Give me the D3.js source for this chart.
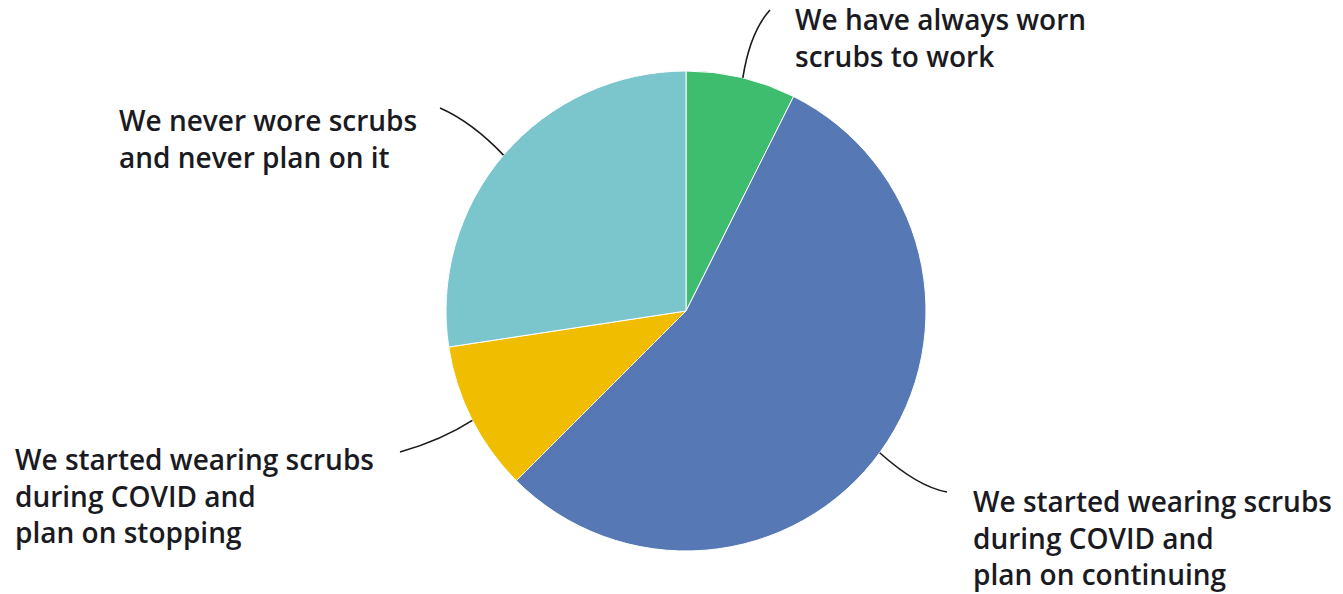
<!DOCTYPE html>
<html>
<head>
<meta charset="utf-8">
<script src="https://cdn.jsdelivr.net/npm/d3@7"></script>
<style>
  html, body { margin: 0; padding: 0; background: #fff; }
  svg { display: block; }
  text { font-family: "Open Sans", sans-serif; font-weight: 600; fill: #1a1a22; }
</style>
</head>
<body>
<svg id="chart" width="1343" height="594"></svg>
<script>
const categories = [
  "We have always worn scrubs to work",
  "We started wearing scrubs during COVID and plan on continuing",
  "We started wearing scrubs during COVID and plan on stopping",
  "We never wore scrubs and never plan on it"
];
const values = [7.4, 55.1, 10.1, 27.4];
const colors = ["#3dbd6d", "#5679b6", "#f1bd00", "#7bc6cc"];
const labelLines = [
  ["We have always worn", "scrubs to work"],
  ["We started wearing scrubs", "during COVID and", "plan on continuing"],
  ["We started wearing scrubs", "during COVID and", "plan on stopping"],
  ["We never wore scrubs", "and never plan on it"]
];

const W = 1343, H = 594;
const cx = 686, cy = 311, R = 240;
const svg = d3.select("#chart");

const pie = d3.pie().sort(null).value(d => d)(values);
const arc = d3.arc().innerRadius(0).outerRadius(R);

const g = svg.append("g").attr("transform", `translate(${cx},${cy})`);
g.selectAll("path.slice")
  .data(pie)
  .join("path")
  .attr("class", "slice")
  .attr("d", arc)
  .attr("fill", (d, i) => colors[i])
  .attr("stroke", "#fff")
  .attr("stroke-width", 1);

// label layout (positions only)
const labelPos = [
  { x: 795, y: 30 },
  { x: 973, y: 512 },
  { x: 15, y: 470 },
  { x: 119, y: 131 }
];
const lineH = 36.5;

labelLines.forEach((lines, i) => {
  const t = svg.append("text")
    .attr("x", labelPos[i].x)
    .attr("y", labelPos[i].y)
    .attr("font-size", 28);
  lines.forEach((ln, j) => {
    t.append("tspan")
      .attr("x", labelPos[i].x)
      .attr("y", labelPos[i].y + j * lineH)
      .text(ln);
  });
});

function edgePoint(angleDeg) {
  const a = angleDeg * Math.PI / 180;
  return [cx + R * Math.sin(a), cy - R * Math.cos(a)];
}
const leaders = [
  { a: 13.7, ctrl: [750, 32], end: [770, 10] },
  { a: 126.2, ctrl: [918, 487], end: [947, 492] },
  { a: 242.9, ctrl: [442, 440], end: [400, 452] },
  { a: 310.5, ctrl: [472, 122], end: [440, 108] }
];
leaders.forEach(l => {
  const s = edgePoint(l.a);
  const p = d3.path();
  p.moveTo(s[0], s[1]);
  p.quadraticCurveTo(l.ctrl[0], l.ctrl[1], l.end[0], l.end[1]);
  svg.append("path")
    .attr("d", p.toString())
    .attr("fill", "none")
    .attr("stroke", "#1a1a1a")
    .attr("stroke-width", 1.6);
});
</script>
</body>
</html>
